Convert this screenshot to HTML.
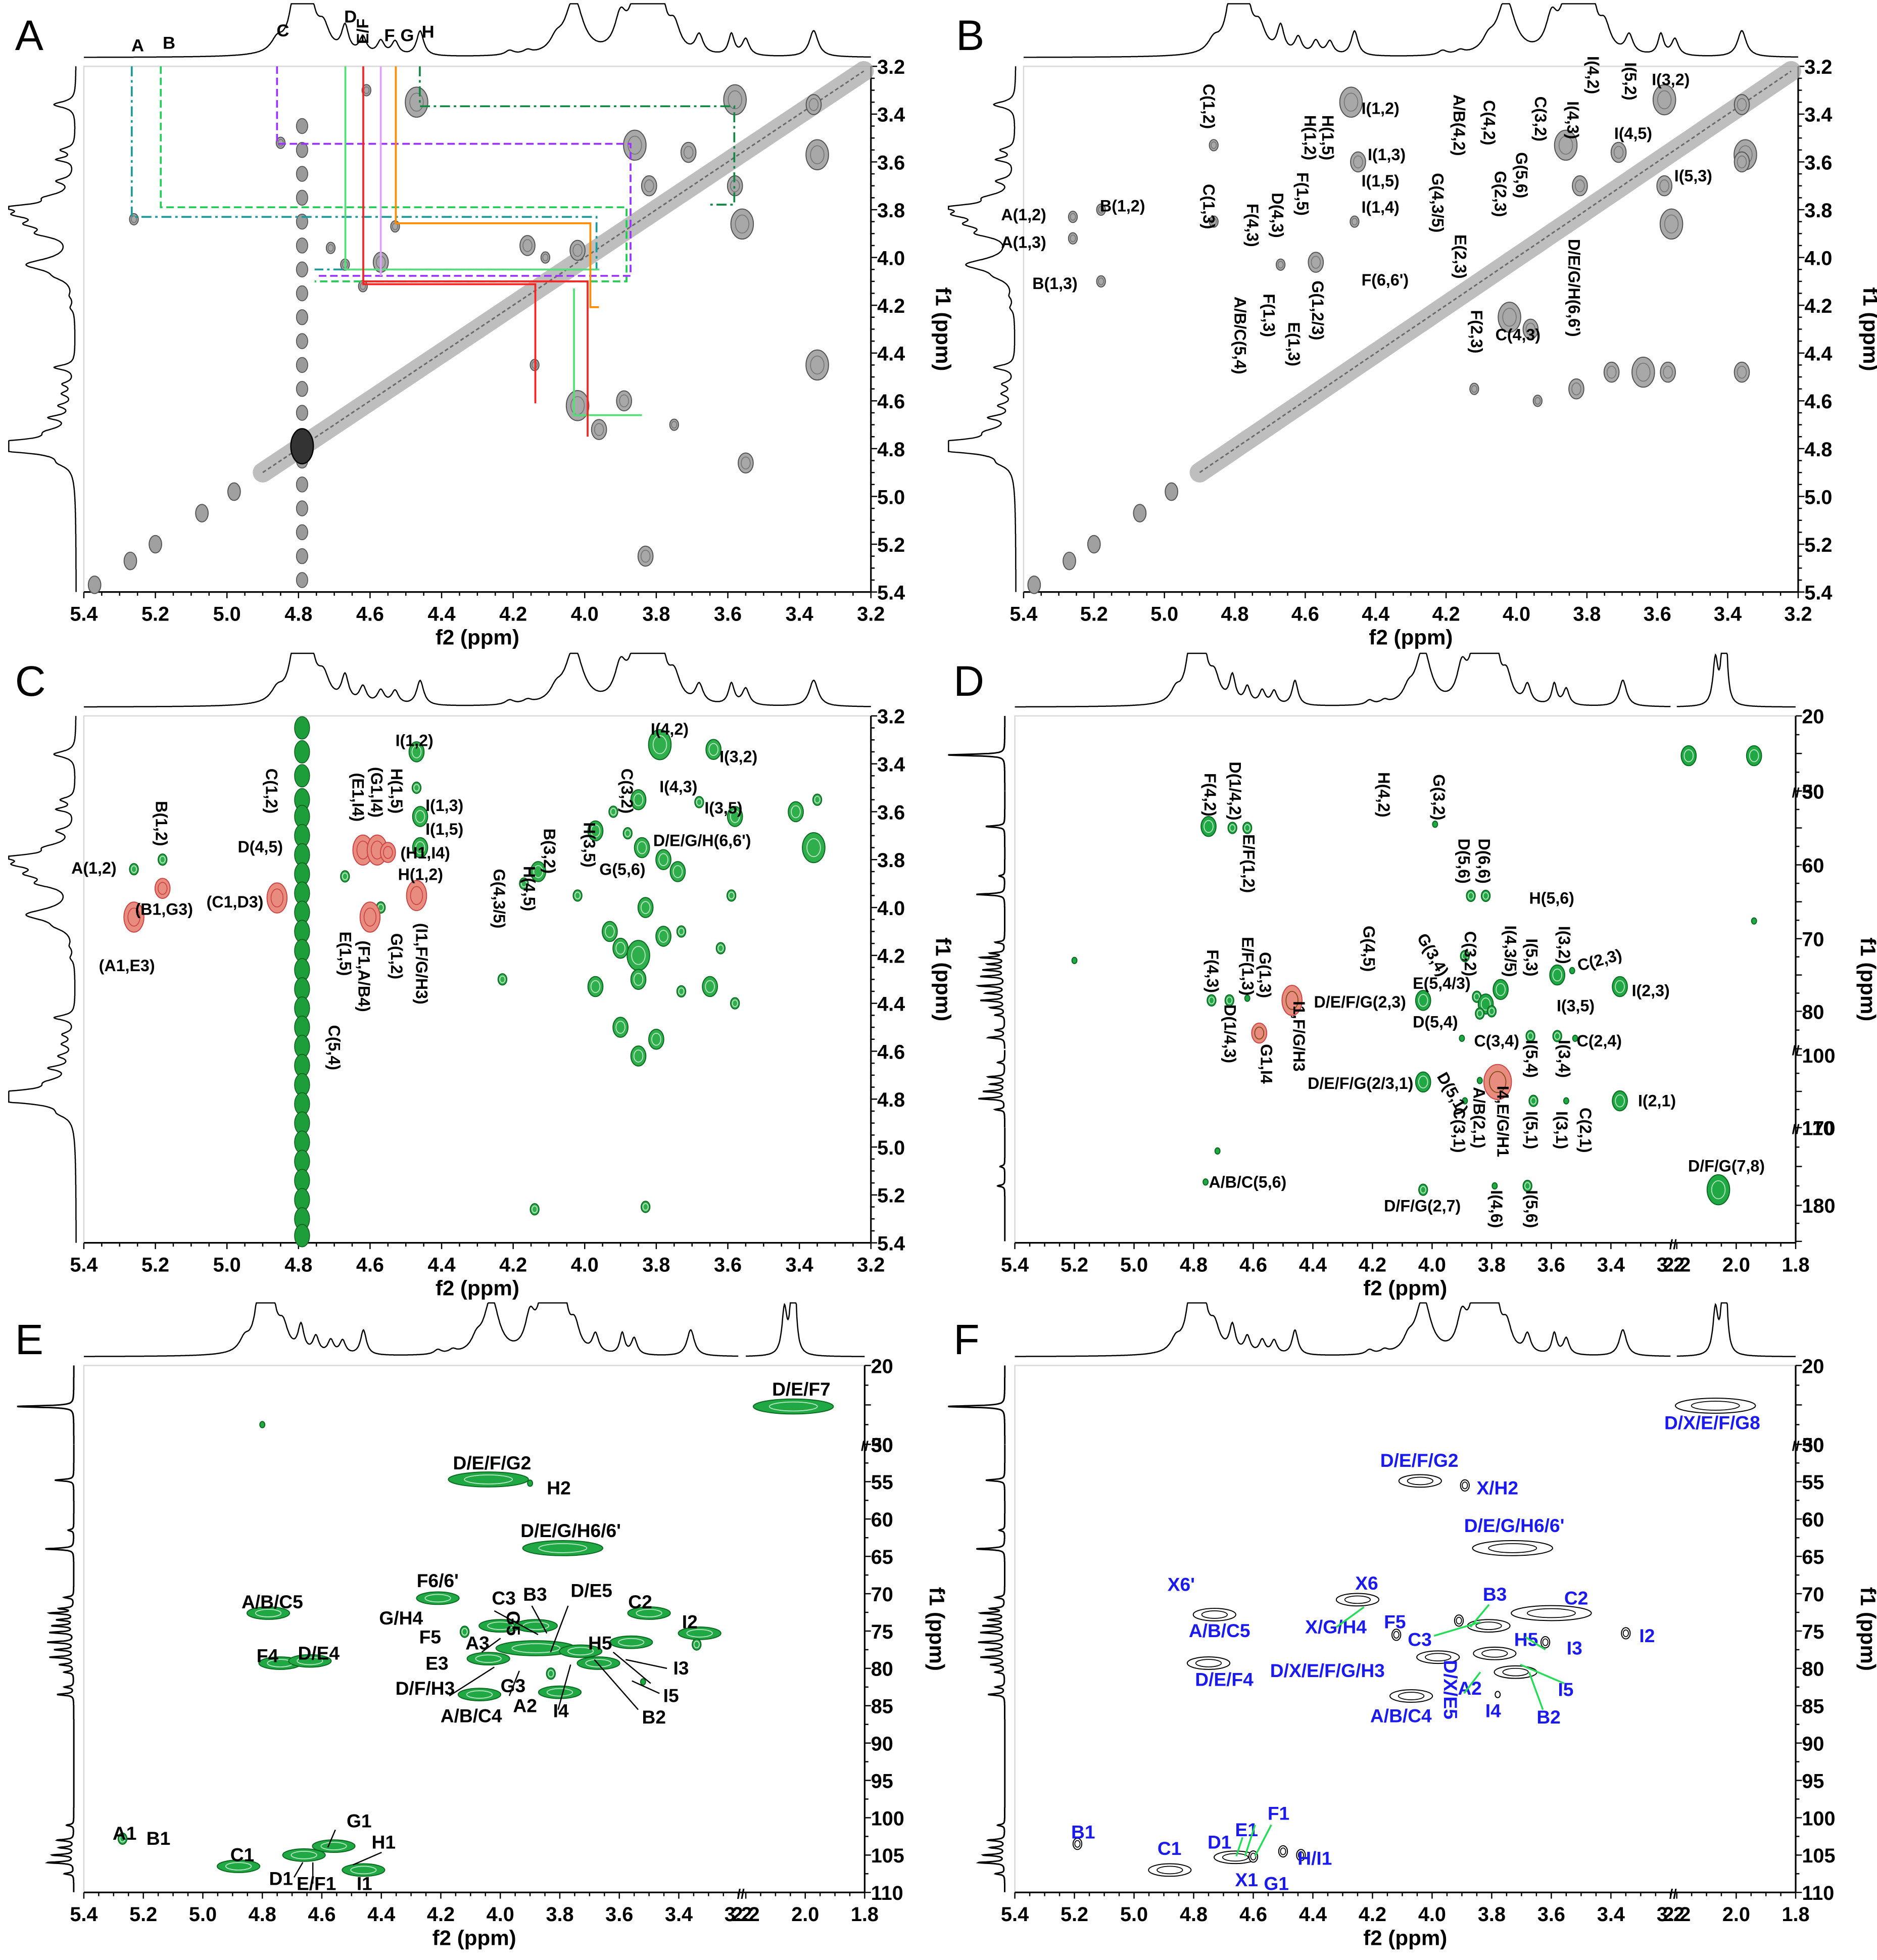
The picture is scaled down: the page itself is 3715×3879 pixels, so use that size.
<!DOCTYPE html>
<html><head><meta charset="utf-8">
<style>
html,body{margin:0;padding:0;background:#fff;}
svg{display:block;}
text{font-family:"Liberation Sans Narrow","Liberation Sans",sans-serif;font-weight:bold;}
</style></head>
<body>
<svg id="fig" xmlns="http://www.w3.org/2000/svg" width="3715" height="3879" viewBox="0 0 1500 1566" preserveAspectRatio="none"></svg>
<script>
// ---------- DATA ----------
const h1Peaks=[[4.86,0.15,0.02],[4.79,3.5,0.015],[4.73,0.3,0.02],[4.67,0.35,0.012],[4.62,0.22,0.012],[4.57,0.18,0.012],[4.53,0.18,0.012],[4.46,0.33,0.012],[4.21,0.06,0.015],[4.16,0.05,0.015],[4.08,0.15,0.02],[4.03,0.75,0.03],[3.9,0.45,0.02],[3.86,0.55,0.02],[3.82,0.7,0.02],[3.79,0.8,0.015],[3.75,0.35,0.02],[3.68,0.25,0.013],[3.59,0.28,0.01],[3.55,0.22,0.012],[3.36,0.35,0.015],[2.07,0.6,0.01],[2.04,2.5,0.006]];
const c13Peaks=[[25.2,1.2],[54.8,0.4],[61.5,0.12],[64,0.6],[70.5,0.2],[72,0.3],[72.6,0.5],[73.5,0.35],[74.3,0.45],[75.2,0.5],[76.5,0.55],[77.5,0.4],[78.5,0.5],[79.5,0.3],[80.5,0.2],[82.5,0.2],[83.5,0.35],[101,0.15],[103,0.35],[104,0.3],[105,0.45],[106,0.55],[107.5,0.2],[175,0.1],[177.5,0.15]];
const diagVals=[4.9,4.86,4.82,4.78,4.74,4.7,4.66,4.62,4.58,4.54,4.5,4.46,4.42,4.38,4.34,4.3,4.26,4.22,4.18,4.14,4.1,4.06,4.02,3.98,3.94,3.9,3.86,3.82,3.78,3.74,3.7,3.66,3.62,3.58,3.54,3.5,3.46,3.42,3.38,3.34,3.3,3.26,3.22];
const diagIsolated=[5.37,5.27,5.2,5.07,4.98];
const waterF1=[3.45,3.55,3.65,3.75,3.85,3.95,4.05,4.15,4.25,4.35,4.45,4.55,4.65,4.75,4.85,4.95,5.05,5.15,5.25,5.35];
const aPeaks=[[4.47,3.35,'L'],[3.58,3.34,'L'],[3.36,3.36,'M'],[3.86,3.53,'L'],[3.71,3.56,'M'],[3.35,3.57,'L'],[3.58,3.7,'M'],[3.56,3.86,'L'],[3.82,3.7,'M'],[4.57,4.02,'M'],[4.67,4.03,'S'],[4.71,3.96,'S'],[4.11,4.0,'S'],[4.16,3.95,'M'],[4.02,4.62,'L'],[3.96,4.72,'M'],[4.14,4.45,'S'],[3.35,4.45,'L'],[3.55,4.86,'M'],[3.83,5.25,'M'],[3.89,4.6,'M'],[3.75,4.7,'S'],[4.02,3.97,'M'],[4.85,3.52,'S'],[5.26,3.84,'S'],[4.53,3.87,'S'],[4.62,4.12,'S'],[4.61,3.3,'S']];
const bPeaks=[[4.47,3.35,'L'],[3.58,3.34,'L'],[3.36,3.36,'M'],[3.86,3.53,'L'],[3.71,3.56,'M'],[3.35,3.57,'L'],[3.58,3.7,'M'],[3.56,3.86,'L'],[3.82,3.7,'M'],[4.57,4.02,'M'],[4.67,4.03,'S'],[4.86,3.53,'S'],[4.86,3.85,'S'],[5.26,3.83,'S'],[5.26,3.92,'S'],[5.18,3.8,'S'],[5.18,4.1,'S'],[4.45,3.6,'M'],[4.46,3.85,'S'],[4.02,4.25,'L'],[3.96,4.3,'M'],[3.73,4.48,'M'],[3.64,4.48,'L'],[3.57,4.48,'M'],[3.36,4.48,'M'],[3.83,4.55,'M'],[3.94,4.6,'S'],[4.12,4.55,'S'],[3.36,3.6,'M']];
const cPeaks=[[5.26,3.84,'S'],[5.18,3.8,'S'],[4.47,3.35,'M'],[4.47,3.5,'S'],[4.46,3.62,'M'],[4.46,3.75,'M'],[4.62,3.78,'S'],[4.67,3.87,'S'],[4.57,4.0,'S'],[3.79,3.32,'L'],[3.64,3.34,'M'],[3.68,3.56,'S'],[3.58,3.62,'M'],[3.85,3.55,'M'],[3.92,3.6,'S'],[3.97,3.68,'M'],[3.88,3.69,'S'],[3.84,3.75,'M'],[3.78,3.8,'M'],[3.74,3.85,'M'],[4.13,3.85,'M'],[4.17,3.9,'S'],[4.02,3.95,'S'],[3.83,4.0,'M'],[3.93,4.1,'M'],[3.78,4.12,'M'],[3.9,4.17,'M'],[3.85,4.2,'L'],[3.73,4.1,'S'],[3.97,4.33,'M'],[3.85,4.3,'M'],[3.65,4.33,'M'],[3.73,4.35,'S'],[3.9,4.5,'M'],[3.85,4.62,'M'],[3.8,4.55,'M'],[4.23,4.3,'S'],[3.41,3.6,'M'],[3.36,3.75,'L'],[3.35,3.55,'S'],[4.14,5.26,'S'],[3.83,5.25,'S'],[3.59,3.95,'S'],[3.62,4.17,'S'],[3.58,4.4,'S']];
const cRed=[[5.26,4.04,'R'],[5.18,3.92,'r'],[4.86,3.96,'R'],[4.62,3.76,'R'],[4.58,3.76,'R'],[4.55,3.77,'r'],[4.6,4.04,'R'],[4.47,3.95,'R']];
const cStreak=[3.25,3.35,3.45,3.55,3.62,3.7,3.78,3.86,3.94,4.02,4.1,4.18,4.26,4.34,4.42,4.5,4.58,4.66,4.74,4.82,4.9,4.98,5.06,5.14,5.22,5.3,5.37];
const dPeaks=[[4.75,54.8,'M'],[4.67,55,'S'],[4.62,55,'S'],[3.99,54.5,'s'],[3.87,64.2,'S'],[3.82,64.2,'S'],[3.89,72.4,'S'],[3.58,75,'M'],[3.53,74.4,'s'],[3.37,76.6,'M'],[4.03,78.5,'M'],[3.85,78,'S'],[3.82,79,'M'],[3.8,80,'S'],[3.77,77,'M'],[3.84,80.3,'S'],[4.74,78.5,'S'],[4.68,78.5,'S'],[4.62,78.2,'s'],[3.9,83.6,'s'],[3.67,83.3,'S'],[3.58,83.3,'S'],[3.52,83.6,'s'],[4.03,103.7,'M'],[3.78,103.7,'S'],[3.84,103.5,'s'],[3.89,106.3,'s'],[3.66,106.3,'S'],[3.55,106.3,'s'],[3.37,106.3,'M'],[2.16,25.3,'M'],[1.94,25.3,'M'],[2.06,178,'L'],[4.03,178,'S'],[3.79,177.5,'s'],[3.68,177.5,'S'],[4.76,177,'s'],[1.94,67.6,'s'],[5.2,73,'s'],[4.72,173,'s']];
const dRed=[[4.47,78.5,'R'],[4.58,82.9,'r'],[3.78,103.7,'B']];
const ePeaks=[[2.04,25.2,'X'],[4.8,27.5,'s'],[4.04,54.7,'X'],[3.9,55.2,'s'],[3.79,63.9,'X'],[4.78,72.6,'W'],[4.21,70.6,'W'],[4.12,75.1,'S'],[4.0,74.3,'W'],[3.88,74.3,'W'],[3.88,77.3,'X'],[3.73,77.7,'W'],[3.5,72.6,'W'],[3.33,75.3,'W'],[3.56,76.5,'W'],[3.67,79.3,'W'],[4.04,78.7,'W'],[3.83,80.7,'S'],[4.07,83.5,'W'],[3.8,83.2,'W'],[3.52,81.8,'s'],[4.74,79.3,'W'],[4.64,79,'W'],[5.27,102.8,'S'],[4.88,106.5,'W'],[4.66,105,'W'],[4.56,103.8,'W'],[4.46,107,'W'],[3.34,76.8,'S']];
const fPeaks=[[2.07,25.1,'X'],[4.04,54.9,'W'],[3.89,55.5,'S'],[3.73,63.9,'X'],[4.73,72.8,'W'],[4.25,70.8,'W'],[4.12,75.5,'S'],[3.81,74.3,'W'],[3.91,73.6,'S'],[3.6,72.6,'X'],[3.35,75.3,'S'],[3.62,76.5,'S'],[3.79,78,'W'],[3.98,78.5,'W'],[3.72,80.5,'W'],[4.75,79.3,'W'],[4.07,83.7,'W'],[3.78,83.5,'s'],[5.19,103.5,'S'],[4.88,107,'W'],[4.66,105.3,'W'],[4.6,105.2,'S'],[4.5,104.5,'S'],[4.44,105,'S']];
const aLinks=[
 ['#1a9a9a','8,3,2,3',[[5.266,3.2],[5.266,3.83],[3.967,3.83],[3.967,4.05],[4.755,4.05]]],
 ['#22cc55','6,3',[[5.185,3.2],[5.185,3.79],[3.883,3.79],[3.883,4.1],[4.755,4.1]]],
 ['#9933ff','6,3',[[4.86,3.2],[4.86,3.524],[3.872,3.524],[3.872,4.077],[4.746,4.077]]],
 ['#118844','8,3,2,3',[[4.461,3.2],[4.461,3.367],[3.582,3.367],[3.582,3.779],[3.657,3.779]]],
 ['#55dd77','',[[4.669,3.2],[4.669,4.05],[3.959,4.05]]],
 ['#55dd77','',[[4.03,4.13],[4.03,4.66],[3.84,4.66]]],
 ['#ff2020','',[[4.619,3.2],[4.619,4.112],[4.138,4.112],[4.138,4.61]]],
 ['#ff2020','',[[4.619,4.1],[3.992,4.1],[3.992,4.75]]],
 ['#e0a0ff','',[[4.57,3.2],[4.57,4.077]]],
 ['#ff8c00','',[[4.528,3.2],[4.528,3.857],[3.984,3.857],[3.984,4.208],[3.96,4.208]]]
];
// ---------- LABELS (annotation positions in figure px) ----------
const topLabelsA=[[105,41,'A',0],[130,39,'B',0],[221,29,'C',0],[275,18,'D',0],[307,33,'F',0],[320,33,'G',0],[337,30,'H',0]];
const labelsB=[[800,176,'A(1,2)',0],[800,198,'A(1,3)',0],[879,169,'B(1,2)',0],[825,231,'B(1,3)',0],[965,165,'C(1,3)',1],[965,85,'C(1,2)',1],[1000,180,'F(4,3)',1],[1020,172,'D(4,3)',1],[1040,155,'F(1,5)',1],[1046,110,'H(1,2)',1],[1060,110,'H(1,5)',1],[1088,91,'I(1,2)',0],[1093,128,'I(1,3)',0],[1088,149,'I(1,5)',0],[1088,170,'I(1,4)',0],[1165,100,'A/B(4,2)',1],[1189,98,'C(4,2)',1],[1230,95,'C(3,2)',1],[1256,96,'I(4,3)',1],[1272,60,'I(4,2)',1],[1302,65,'I(5,2)',1],[1320,68,'I(3,2)',0],[1290,111,'I(4,5)',0],[1338,145,'I(5,3)',0],[1198,155,'G(2,3)',1],[1215,140,'G(5,6)',1],[1148,162,'G(4,3/5)',1],[1166,205,'E(2,3)',1],[990,268,'A/B/C(5,4)',1],[1013,252,'F(1,3)',1],[1033,275,'E(1,3)',1],[1052,248,'G(1,2/3)',1],[1088,228,'F(6,6\')',0],[1179,265,'F(2,3)',1],[1195,272,'C(4,3)',0],[1257,230,'D/E/G/H(6,6\')',1]];
const labelsC=[[57,698,'A(1,2)',0],[128,658,'B(1,2)',1],[108,731,'(B1,G3)',0],[79,776,'(A1,E3)',0],[216,632,'C(1,2)',1],[190,681,'D(4,5)',0],[165,725,'(C1,D3)',0],[285,637,'(E1,I4)',1],[300,633,'(G1,I4)',1],[316,632,'H(1,5)',1],[320,686,'(H1,I4)',0],[318,703,'H(1,2)',0],[316,596,'I(1,2)',0],[340,648,'I(1,3)',0],[340,667,'I(1,5)',0],[275,762,'E(1,5)',1],[290,780,'(F1,A/B4)',1],[316,764,'G(1,2)',1],[336,770,'(I1,F/G/H3)',1],[266,837,'C(5,4)',1],[398,718,'G(4,3/5)',1],[422,710,'H(4,5)',1],[438,680,'B(3,2)',1],[470,675,'H(3,5)',1],[500,632,'C(3,2)',1],[520,587,'I(4,2)',0],[575,609,'I(3,2)',0],[527,633,'I(4,3)',0],[563,650,'I(3,5)',0],[522,676,'D/E/G/H(6,6\')',0],[479,699,'G(5,6)',0]];
const labelsD=[[966,635,'F(4,2)',1],[986,632,'D(1/4,2)',1],[997,690,'E/F(1,2)',1],[1105,635,'H(4,2)',1],[1149,637,'G(3,2)',1],[1169,688,'D(5,6)',1],[1185,688,'D(6,6)',1],[1222,722,'H(5,6)',0],[1132,749,'G(3,4)',2],[1174,762,'C(3,2)',1],[1206,760,'I(4,3/5)',1],[1223,765,'I(5,3)',1],[1249,755,'I(3,2)',1],[1262,776,'C(2,3)',3],[1304,796,'I(2,3)',0],[1093,758,'G(4,5)',1],[1129,790,'E(5,4/3)',0],[1050,805,'D/E/F/G(2,3)',0],[1129,821,'D(5,4)',0],[1244,808,'I(3,5)',0],[1178,836,'C(3,4)',0],[1260,836,'C(2,4)',0],[1223,846,'I(5,4)',1],[1249,846,'I(3,4)',1],[968,776,'F(4,3)',1],[996,772,'E/F(1,3)',1],[1010,779,'G(1,3)',1],[982,826,'D(1/4,3)',1],[1011,850,'G1,I4',1],[1037,828,'I1,F/G/H3',1],[1045,870,'D/E/F/G(2/3,1)',0],[1148,860,'D(5,1)',2],[1181,893,'A/B(2,1)',1],[1165,903,'C(3,1)',1],[1200,896,'I4,E/G/H1',1],[1223,903,'I(5,1)',1],[1247,903,'I(3,1)',1],[1266,903,'C(2,1)',1],[1309,884,'I(2,1)',0],[966,949,'A/B/C(5,6)',0],[1106,968,'D/F/G(2,7)',0],[1195,966,'I(4,6)',1],[1223,966,'I(5,6)',1],[1349,936,'D/F/G(7,8)',0]];
const labelsE=[[617,1115,'D/E/F7',0],[362,1174,'D/E/F/G2',0],[437,1194,'H2',0],[416,1228,'D/E/G/H6/6\'',0],[193,1285,'A/B/C5',0],[333,1268,'F6/6\'',0],[303,1298,'G/H4',0],[393,1282,'C3',0],[418,1279,'B3',0],[456,1276,'D/E5',0],[502,1285,'C2',0],[545,1301,'I2',0],[409,1297,'G5',1],[335,1313,'F5',0],[372,1318,'A3',0],[470,1318,'H5',0],[538,1338,'I3',0],[340,1334,'E3',0],[205,1328,'F4',0],[238,1326,'D/E4',0],[530,1360,'I5',0],[316,1354,'D/F/H3',0],[400,1352,'G3',0],[410,1368,'A2',0],[513,1377,'B2',0],[352,1376,'A/B/C4',0],[442,1372,'I4',0],[90,1470,'A1',0],[117,1474,'B1',0],[184,1487,'C1',0],[277,1460,'G1',0],[297,1477,'H1',0],[215,1506,'D1',0],[237,1510,'E/F1',0],[285,1510,'I1',0]];
const labelsF=[[1330,1142,'D/X/E/F/G8',0],[1103,1172,'D/E/F/G2',0],[1180,1194,'X/H2',0],[1170,1224,'D/E/G/H6/6\'',0],[933,1271,'X6\'',0],[1083,1270,'X6',0],[1185,1279,'B3',0],[1250,1282,'C2',0],[950,1308,'A/B/C5',0],[1043,1305,'X/G/H4',0],[1106,1301,'F5',0],[1125,1315,'C3',0],[1210,1315,'H5',0],[1252,1322,'I3',0],[1310,1312,'I2',0],[1015,1340,'D/X/E/F/G/H3',0],[955,1347,'D/E/F4',0],[1165,1354,'A2',0],[1245,1355,'I5',0],[1095,1376,'A/B/C4',0],[1187,1372,'I4',0],[1228,1377,'B2',0],[1158,1350,'D/X/E5',1],[856,1469,'B1',0],[925,1482,'C1',0],[965,1477,'D1',0],[987,1467,'E1',0],[1013,1454,'F1',0],[987,1507,'X1',0],[1010,1510,'G1',0],[1037,1490,'H/I1',0]];
const leadersE=[[454,1283,440,1320],[425,1283,437,1305],[395,1287,430,1306],[385,1320,400,1309],[490,1320,520,1345],[500,1326,533,1333],[505,1343,527,1353],[475,1326,510,1366],[359,1355,395,1332],[407,1355,415,1335],[446,1366,456,1330],[268,1462,262,1476],[305,1480,282,1490],[235,1500,242,1488],[250,1505,250,1488]];
const leadersF=[[1170,1353,1183,1336],[1233,1366,1222,1336],[1250,1345,1215,1330],[1146,1307,1183,1296],[1190,1282,1175,1300],[1003,1458,995,1483],[1016,1458,1003,1483],[993,1468,988,1483],[1219,1308,1235,1318],[1068,1300,1090,1284]];

// ---------- AXES ----------
function pw(stops){return v=>{for(let i=0;i<stops.length-1;i++){const [a,pa]=stops[i],[b,pb]=stops[i+1];const lo=Math.min(a,b),hi=Math.max(a,b);if(v>=lo&&v<=hi){return pa+(v-a)*(pb-pa)/(b-a);}}const [a,pa]=stops[0],[b,pb]=stops[stops.length-1];return v<Math.min(a,b)==(a<b)?pa:pb;};}
const H1T=['5.4','5.2','5.0','4.8','4.6','4.4','4.2','4.0','3.8','3.6','3.4','3.2'];
const H1Y=['3.2','3.4','3.6','3.8','4.0','4.2','4.4','4.6','4.8','5.0','5.2','5.4'];
const BRT=['5.4','5.2','5.0','4.8','4.6','4.4','4.2','4.0','3.8','3.6','3.4','3.2','2.2','2.0','1.8'];
const EFY=['20','30','50','55','60','65','70','75','80','85','90','95','100','105','110'];
const P={
 A:{L:67,R:696,T:53,B:473,x:pw([[5.4,67],[3.2,696]]),y:pw([[3.2,53],[5.4,473]]),xs:[[5.4,3.2]],ys:[[3.2,5.4]],xt:H1T,yt:H1Y,c13:false},
 B:{L:818,R:1437,T:53,B:473,x:pw([[5.4,818],[3.2,1437]]),y:pw([[3.2,53],[5.4,473]]),xs:[[5.4,3.2]],ys:[[3.2,5.4]],xt:H1T,yt:H1Y,c13:false},
 C:{L:67,R:696,T:572,B:993,x:pw([[5.4,67],[3.2,696]]),y:pw([[3.2,572],[5.4,993]]),xs:[[5.4,3.2]],ys:[[3.2,5.4]],xt:H1T,yt:H1Y,c13:false},
 D:{L:811,R:1435,T:572,B:993,x:pw([[5.4,811],[3.2,1335],[2.2,1340],[1.8,1435]]),y:pw([[20,572],[30,632],[50,632],[60,691],[70,750],[80,808],[85,838],[99.3,839],[110,901],[170,901],[180,963],[185.2,993]]),xs:[[5.4,3.2],[2.2,1.8]],ys:[[20,30],[50,85],[99.3,110],[170,185]],xt:BRT,yt:['20','30','50','60','70','80','100','110','170','180'],c13:true,xb:3.2,yb:[30,85,110]},
 E:{L:67,R:691,T:1091,B:1512,x:pw([[5.4,67],[3.2,590],[2.2,596],[1.8,691]]),y:pw([[20,1091],[30,1154],[50,1154],[110,1512]]),xs:[[5.4,3.2],[2.2,1.8]],ys:[[20,30],[50,110]],xt:BRT,yt:EFY,c13:true,xb:3.2,yb:[30]},
 F:{L:811,R:1435,T:1091,B:1512,x:pw([[5.4,811],[3.2,1335],[2.2,1340],[1.8,1435]]),y:pw([[20,1091],[30,1154],[50,1154],[110,1512]]),xs:[[5.4,3.2],[2.2,1.8]],ys:[[20,30],[50,110]],xt:BRT,yt:EFY,c13:true,xb:3.2,yb:[30]}
};
const NS='http://www.w3.org/2000/svg';
const svg=document.getElementById('fig');
function el(tag,attrs,parent){const e=document.createElementNS(NS,tag);for(const k in attrs)e.setAttribute(k,attrs[k]);(parent||svg).appendChild(e);return e;}
const SZ={s:[2,2.5],S:[3.5,4.5],M:[6,8],L:[9,12],W:[17,5],X:[32,6],R:[8,12],r:[6,8],B:[11,14]};
function specH(v){let s=0;for(const [c,h,w] of h1Peaks){s+=h*w*w/((v-c)*(v-c)+w*w);}return s;}
function specC(v){let s=0;for(const [c,h] of c13Peaks){const w=0.12;s+=h*w*w/((v-c)*(v-c)+w*w);}return s;}

function panel(key,letter,opts){
 const p=P[key];
 const g=el('g',{});
 
 
 const fr=el('rect',{x:p.L,y:p.T,width:p.R-p.L,height:p.B-p.T,fill:'#fff',stroke:'#d8d8d8','stroke-width':1},g);
 
 
 const lt=el('text',{x:opts.lx,y:opts.ly,'font-size':34,style:'font-family:"Liberation Sans",sans-serif;font-weight:normal'},g);
 lt.textContent=letter;
 
 
 let d='';
 for(const [a,b] of p.xs){let first=true;for(let v=a;v>=b-1e-9;v-=0.002){const yy=Math.max(p.T-7-specH(v)*60,p.T-50);d+=(first?'M':'L')+p.x(v).toFixed(1)+','+yy.toFixed(1);first=false;}}
 const ts=el('path',{d:d,fill:'none',stroke:'#000','stroke-width':1},g);
 
 
 d='';
 if(!p.c13){let first=true;for(let v=3.2;v<=5.4;v+=0.002){const xx=Math.max(p.L-6-specH(v)*50,p.L-60);d+=(first?'M':'L')+xx.toFixed(1)+','+p.y(v).toFixed(1);first=false;}}
 else{for(const [a,b] of p.ys){let first=true;for(let v=a;v<=b;v+=0.03){const xx=Math.max(p.L-8-specC(v)*38,p.L-55);d+=(first?'M':'L')+xx.toFixed(1)+','+p.y(v).toFixed(1);first=false;}}}
 const ls=el('path',{d:d,fill:'none',stroke:'#000','stroke-width':p.c13?1.2:1},g);
 
 
 const xa=el('line',{x1:p.L,y1:p.B,x2:p.R,y2:p.B,stroke:'#000','stroke-width':1.3},g);
 
 
 const ya=el('line',{x1:p.R,y1:p.T,x2:p.R,y2:p.B,stroke:'#000','stroke-width':1.3},g);
 
 
 for(const [a,b] of p.xs){for(let v=a;v>=b-1e-9;v-=0.05){const maj=Math.abs(v*5-Math.round(v*5))<1e-6;const t=el('line',{x1:p.x(v),y1:p.B,x2:p.x(v),y2:p.B+(maj?5:3),stroke:'#000','stroke-width':1},g);}}
 for(const s of p.xt){const v=parseFloat(s);const t=el('text',{x:p.x(v),y:p.B+23,'font-size':16,'text-anchor':'middle'},g);t.textContent=s;}
 if(!p.c13){for(let v=3.2;v<=5.41;v+=0.05){const maj=Math.abs(v*5-Math.round(v*5))<1e-6;const t=el('line',{x1:p.R,y1:p.y(v),x2:p.R+(maj?5:3),y2:p.y(v),stroke:'#000','stroke-width':1},g);}}
 else{for(const [a,b] of p.ys){for(let v=Math.ceil(a/2.5)*2.5;v<=b;v+=2.5){const maj=v%5==0;const t=el('line',{x1:p.R,y1:p.y(v),x2:p.R+(maj?5:3),y2:p.y(v),stroke:'#000','stroke-width':1},g);}}}
 for(const s of p.yt){const v=parseFloat(s);const t=el('text',{x:p.R+5,y:p.y(v)+6,'font-size':16},g);t.textContent=s;}
 if(p.xb){const bx=p.x(p.xb)+2;const bm=el('text',{x:bx,y:p.B+5,'font-size':11,'text-anchor':'middle'},g);bm.textContent='//';}
 if(p.yb){for(const v of p.yb){const bm=el('text',{x:p.R-3,y:p.y(v)+5,'font-size':11},g);bm.textContent='//';}}
 const xl=el('text',{x:(p.L+p.R)/2,y:p.B+42,'font-size':17,'text-anchor':'middle'},g);xl.textContent='f2 (ppm)';
 
 const yx=p.R+52,yy=(p.T+p.B)/2;
 const yl=el('text',{x:yx,y:yy,'font-size':17,'text-anchor':'middle',transform:'rotate(90 '+yx+' '+yy+')'},g);yl.textContent='f1 (ppm)';
 
 return g;
}
function peaks(key,list,fill,stroke,ring){
 const p=P[key];
 const g=el('g',{});
 
 
 for(const [f2,f1,s] of list){
  const [rx,ry]=SZ[s];const cx=p.x(f2),cy=p.y(f1);
  const e=el('ellipse',{cx:cx,cy:cy,rx:rx,ry:ry,fill:fill,stroke:stroke,'stroke-width':0.8},g);
  
  
  if(ring&&rx>3){const e2=el('ellipse',{cx:cx,cy:cy,rx:rx*0.6,ry:ry*0.6,fill:'none',stroke:ring,'stroke-width':0.7},g);}
 }
}
function labels(list,color,size){
 const g=el('g',{});
 
 
 for(const [x,y,t,r] of list){
  const at={x:x,y:y,'font-size':size,fill:color};
  if(r==1){at['text-anchor']='middle';at.transform='rotate(90 '+x+' '+y+')';at['dominant-baseline']='middle';}
  if(r==2){at.transform='rotate(60 '+x+' '+y+')';}
  if(r==3){at.transform='rotate(-15 '+x+' '+y+')';}
  const e=el('text',at,g);e.textContent=t;
  
  
 }
}
function diag(key){
 const p=P[key];
 let d='';diagVals.forEach((v,i)=>{d+=(i?'L':'M')+p.x(v).toFixed(1)+','+p.y(v).toFixed(1);});
 const b=el('path',{d:d,fill:'none',stroke:'#a8a8a8','stroke-width':16,'stroke-linecap':'round','stroke-opacity':0.75});
 
 const b2=el('path',{d:d,fill:'none',stroke:'#6a6a6a','stroke-width':1.2,'stroke-dasharray':'3,2'});
 
 for(const v of diagIsolated){const e=el('ellipse',{cx:p.x(v),cy:p.y(v),rx:5,ry:7,fill:'#a0a0a0',stroke:'#555','stroke-width':0.8});}
}

// ---------- BUILD ----------
panel('A','A',{lx:12,ly:40});
panel('B','B',{lx:764,ly:40});
panel('C','C',{lx:12,ly:556});
panel('D','D',{lx:762,ly:556});
panel('E','E',{lx:12,ly:1082});
panel('F','F',{lx:762,ly:1082});

// A
(function(){const p=P.A;
 for(const v of waterF1){const e=el('ellipse',{cx:p.x(4.79),cy:p.y(v),rx:4.5,ry:6,fill:'#9a9a9a',stroke:'#555','stroke-width':0.7});}
 diag('A');
 const w=el('ellipse',{cx:p.x(4.79),cy:p.y(4.79),rx:9,ry:14,fill:'#333',stroke:'#000'});
 peaks('A',aPeaks,'#a8a8a8','#555','#777');
 for(const [c,da,pts] of aLinks){const pl=el('polyline',{points:pts.map(q=>p.x(q[0]).toFixed(1)+','+p.y(q[1]).toFixed(1)).join(' '),fill:'none',stroke:c,'stroke-width':1.5,'stroke-dasharray':da});}
 labels(topLabelsA,'#000',14);
 const ef=el('text',{x:291,y:25,'font-size':13,'text-anchor':'middle',transform:'rotate(-90 291 25)','dominant-baseline':'middle'});ef.textContent='E/F';
})();
// B
diag('B');
peaks('B',bPeaks,'#a8a8a8','#555','#777');
labels(labelsB,'#000',13);
// C
(function(){const p=P.C;
 for(const v of cStreak){const e=el('ellipse',{cx:p.x(4.79),cy:p.y(v),rx:6,ry:9,fill:'#1d9e3a',stroke:'#0a5a1a','stroke-width':0.6});}
 peaks('C',cPeaks,'#2fae4c','#0a6a20','#bfe8c8');
 peaks('C',cRed,'#e98c80','#c44','#c44');
})();
labels(labelsC,'#000',13);
// D
peaks('D',dPeaks,'#1fa844','#0a6a20','#bfe8c8');
peaks('D',dRed,'#e98c80','#c44','#7a4a10');
labels(labelsD,'#000',13);
// E
peaks('E',ePeaks,'#1fa844','#0a6a20','#bfe8c8');
labels(labelsE,'#000',15);
(function(){for(const [a,b,c,d] of leadersE){const l=el('line',{x1:a,y1:b,x2:c,y2:d,stroke:'#000','stroke-width':1});}})();
// F
peaks('F',fPeaks,'#fff','#000','#000');
labels(labelsF,'#1a1aee',15);
(function(){for(const [a,b,c,d] of leadersF){const l=el('line',{x1:a,y1:b,x2:c,y2:d,stroke:'#22dd55','stroke-width':1.4});}})();
</script>
</body></html>
